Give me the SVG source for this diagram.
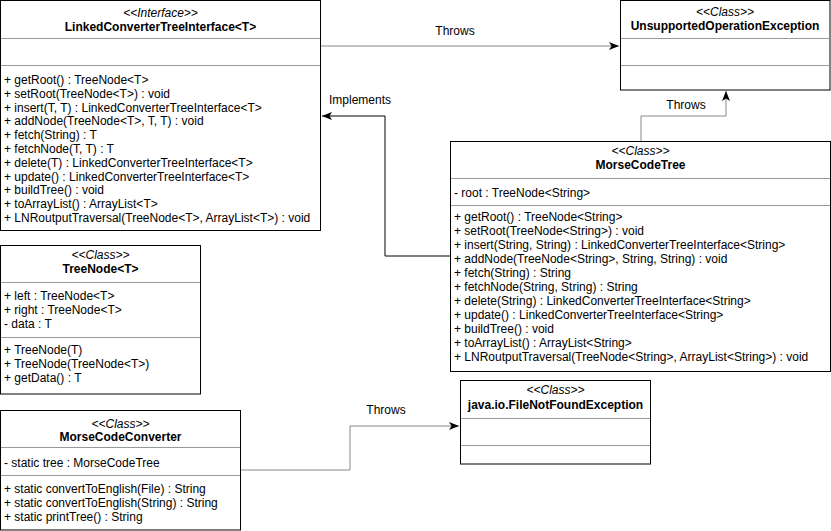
<svg xmlns="http://www.w3.org/2000/svg" width="831" height="531" viewBox="0 0 831 531">
<style>
text{font-family:"Liberation Sans",Arial,Helvetica,sans-serif;font-size:12px;fill:#000}
.st{font-style:italic;text-anchor:middle}
.nm{font-weight:bold;text-anchor:middle}
.box{fill:#fff;stroke:#000;stroke-width:1}
.div{stroke:#999;stroke-width:1}
.gray{fill:none;stroke:#888;stroke-width:1}
.blk{fill:none;stroke:#000;stroke-width:1}
.lbl{text-anchor:middle}
</style>
<defs>
<marker id="arr" markerUnits="userSpaceOnUse" markerWidth="12" markerHeight="10" refX="10" refY="4" orient="auto">
<path d="M0,0 L10,4 L0,8 L2.5,4 Z" fill="#000"/>
</marker>
</defs>
<rect width="831" height="531" fill="#fff"/>

<g id="connectors">
<path class="gray" d="M321,46 H619" marker-end="url(#arr)"/>
<text class="lbl" x="455" y="35">Throws</text>
<path class="blk" d="M450,256 H385 V116 H322" marker-end="url(#arr)"/>
<text class="lbl" x="360" y="104">Implements</text>
<path class="gray" d="M641,141 V116 H726 V91" marker-end="url(#arr)"/>
<text class="lbl" x="686" y="109">Throws</text>
<path class="gray" d="M240,470 H350 V426 H459" marker-end="url(#arr)"/>
<text class="lbl" x="386" y="414">Throws</text>
</g>

<g id="LinkedConverterTreeInterface">
<rect class="box" x="0.5" y="0.5" width="320" height="230"/>
<line class="div" x1="1" y1="38.5" x2="320" y2="38.5"/>
<line class="div" x1="1" y1="65.5" x2="320" y2="65.5"/>
<text class="st" x="160.5" y="17">&lt;&lt;Interface&gt;&gt;</text>
<text class="nm" x="160.5" y="31">LinkedConverterTreeInterface&lt;T&gt;</text>
<text x="4" y="84">+ getRoot() : TreeNode&lt;T&gt;</text>
<text x="4" y="97.8">+ setRoot(TreeNode&lt;T&gt;) : void</text>
<text x="4" y="111.6">+ insert(T, T) : LinkedConverterTreeInterface&lt;T&gt;</text>
<text x="4" y="125.4">+ addNode(TreeNode&lt;T&gt;, T, T) : void</text>
<text x="4" y="139.2">+ fetch(String) : T</text>
<text x="4" y="153">+ fetchNode(T, T) : T</text>
<text x="4" y="166.8">+ delete(T) : LinkedConverterTreeInterface&lt;T&gt;</text>
<text x="4" y="180.6">+ update() : LinkedConverterTreeInterface&lt;T&gt;</text>
<text x="4" y="194.4">+ buildTree() : void</text>
<text x="4" y="208.2">+ toArrayList() : ArrayList&lt;T&gt;</text>
<text x="4" y="222">+ LNRoutputTraversal(TreeNode&lt;T&gt;, ArrayList&lt;T&gt;) : void</text>
</g>

<g id="UnsupportedOperationException">
<rect class="box" x="620.5" y="0.5" width="209.5" height="89.5"/>
<line class="div" x1="621" y1="38.5" x2="830" y2="38.5"/>
<line class="div" x1="621" y1="65.5" x2="830" y2="65.5"/>
<text class="st" x="725" y="16">&lt;&lt;Class&gt;&gt;</text>
<text class="nm" x="725" y="30">UnsupportedOperationException</text>
</g>

<g id="MorseCodeTree">
<rect class="box" x="450.5" y="141.5" width="380" height="230"/>
<line class="div" x1="451" y1="178.5" x2="830" y2="178.5"/>
<line class="div" x1="451" y1="205.5" x2="830" y2="205.5"/>
<text class="st" x="640.5" y="155">&lt;&lt;Class&gt;&gt;</text>
<text class="nm" x="640.5" y="169">MorseCodeTree</text>
<text x="454" y="197">- root : TreeNode&lt;String&gt;</text>
<text x="454" y="221">+ getRoot() : TreeNode&lt;String&gt;</text>
<text x="454" y="235">+ setRoot(TreeNode&lt;String&gt;) : void</text>
<text x="454" y="249">+ insert(String, String) : LinkedConverterTreeInterface&lt;String&gt;</text>
<text x="454" y="263">+ addNode(TreeNode&lt;String&gt;, String, String) : void</text>
<text x="454" y="277">+ fetch(String) : String</text>
<text x="454" y="291">+ fetchNode(String, String) : String</text>
<text x="454" y="305">+ delete(String) : LinkedConverterTreeInterface&lt;String&gt;</text>
<text x="454" y="319">+ update() : LinkedConverterTreeInterface&lt;String&gt;</text>
<text x="454" y="333">+ buildTree() : void</text>
<text x="454" y="347">+ toArrayList() : ArrayList&lt;String&gt;</text>
<text x="454" y="361">+ LNRoutputTraversal(TreeNode&lt;String&gt;, ArrayList&lt;String&gt;) : void</text>
</g>

<g id="TreeNode">
<rect class="box" x="0.5" y="245.5" width="200" height="148.5"/>
<line class="div" x1="1" y1="282.5" x2="200" y2="282.5"/>
<line class="div" x1="1" y1="337.5" x2="200" y2="337.5"/>
<text class="st" x="100.5" y="259">&lt;&lt;Class&gt;&gt;</text>
<text class="nm" x="100.5" y="273">TreeNode&lt;T&gt;</text>
<text x="4" y="300">+ left : TreeNode&lt;T&gt;</text>
<text x="4" y="314">+ right : TreeNode&lt;T&gt;</text>
<text x="4" y="328">- data : T</text>
<text x="4" y="353.5">+ TreeNode(T)</text>
<text x="4" y="367.5">+ TreeNode(TreeNode&lt;T&gt;)</text>
<text x="4" y="381.5">+ getData() : T</text>
</g>

<g id="MorseCodeConverter">
<rect class="box" x="0.5" y="410.5" width="240" height="119.5"/>
<line class="div" x1="1" y1="447.5" x2="240" y2="447.5"/>
<line class="div" x1="1" y1="475.5" x2="240" y2="475.5"/>
<text class="st" x="120.5" y="428">&lt;&lt;Class&gt;&gt;</text>
<text class="nm" x="120.5" y="441">MorseCodeConverter</text>
<text x="4" y="467">- static tree : MorseCodeTree</text>
<text x="4" y="493">+ static convertToEnglish(File) : String</text>
<text x="4" y="507">+ static convertToEnglish(String) : String</text>
<text x="4" y="521">+ static printTree() : String</text>
</g>

<g id="FileNotFoundException">
<rect class="box" x="460.5" y="380.5" width="190" height="83.5"/>
<line class="div" x1="461" y1="418.5" x2="650" y2="418.5"/>
<line class="div" x1="461" y1="445.5" x2="650" y2="445.5"/>
<text class="st" x="555.5" y="394">&lt;&lt;Class&gt;&gt;</text>
<text class="nm" x="555.5" y="409">java.io.FileNotFoundException</text>
</g>
</svg>
